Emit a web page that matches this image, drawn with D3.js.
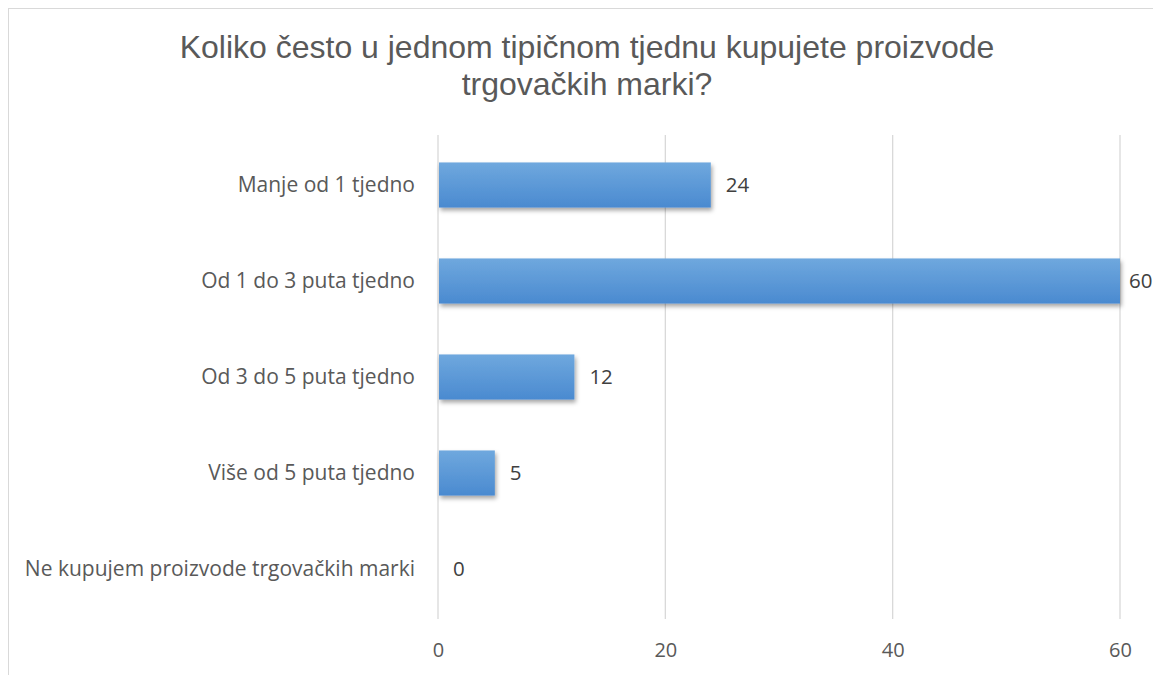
<!DOCTYPE html>
<html><head><meta charset="utf-8">
<script src="https://cdn.jsdelivr.net/npm/d3@7"></script>
<style>body{margin:0;background:#fff;}svg{display:block;}</style>
</head><body>
<svg id="c" width="1153" height="675"></svg>
<script>
const categories = ["Manje od 1 tjedno","Od 1 do 3 puta tjedno","Od 3 do 5 puta tjedno","Više od 5 puta tjedno","Ne kupujem proizvode trgovačkih marki"];
const values = [24, 60, 12, 5, 0];
const xTicks = [0, 20, 40, 60];
const titleLines = ["Koliko često u jednom tipičnom tjednu kupujete proizvode","trgovačkih marki?"];

const svg = d3.select("#c");
const defs = svg.append("defs");
const grad = defs.append("linearGradient").attr("id","g").attr("x1",0).attr("y1",0).attr("x2",0).attr("y2",1);
grad.append("stop").attr("offset","0%").attr("stop-color","#6fa8de");
grad.append("stop").attr("offset","100%").attr("stop-color","#4a8ad0");
const f = defs.append("filter").attr("id","sh").attr("x","-5%").attr("y","-20%").attr("width","115%").attr("height","160%");
f.append("feDropShadow").attr("dx",1.5).attr("dy",3).attr("stdDeviation",2).attr("flood-color","#000").attr("flood-opacity",0.35);

// border
svg.append("rect").attr("x",8.5).attr("y",8.5).attr("width",1160).attr("height",700)
  .attr("fill","none").attr("stroke","#d9d9d9").attr("stroke-width",1);

const x = d3.scaleLinear().domain([0,60]).range([438,1120]);
const y = d3.scaleBand().domain(categories).range([137,617]).paddingInner(0.53).paddingOuter(0.265);

// gridlines
svg.append("g").selectAll("line").data(xTicks).join("line")
  .attr("x1",d=>x(d)).attr("x2",d=>x(d)).attr("y1",135).attr("y2",619)
  .attr("stroke","#d9d9d9").attr("stroke-width",1.3);

// x axis labels
const xa = svg.append("g").attr("transform","translate(0,650)")
  .call(d3.axisBottom(x).tickValues(xTicks).tickSize(0).tickPadding(0));
xa.select(".domain").remove();
xa.selectAll("text").attr("font-family","'Open Sans', sans-serif").attr("font-size",20).attr("fill","#595959").attr("dy","0.35em");

// y axis labels
const ya = svg.append("g").attr("transform","translate(415,0)")
  .call(d3.axisLeft(y).tickSize(0).tickPadding(0));
ya.select(".domain").remove();
ya.selectAll("text").attr("font-family","'Open Sans', sans-serif").attr("font-size",21).attr("fill","#595959");

// bars
svg.append("g").selectAll("rect").data(values).join("rect")
  .attr("x",x(0)+1).attr("y",(d,i)=>y(categories[i]))
  .attr("width",d=>Math.max(0,x(d)-x(0)-1)).attr("height",y.bandwidth())
  .attr("fill","url(#g)").attr("filter","url(#sh)");

// value labels
svg.append("g").selectAll("text").data(values).join("text")
  .attr("x",d=>Math.min(x(d)+15, 1129)).attr("y",(d,i)=>y(categories[i])+y.bandwidth()/2)
  .attr("dy","0.35em").text(d=>d)
  .attr("font-family","'Open Sans', sans-serif").attr("font-size",20.5).attr("fill","#404040");

// title
svg.append("g").selectAll("text").data(titleLines).join("text")
  .attr("x",587).attr("y",(d,i)=>58+i*37).attr("text-anchor","middle")
  .attr("font-family","'Liberation Sans', Arial, sans-serif").attr("font-size",32).attr("fill","#595959")
  .text(d=>d);
</script>
</body></html>
